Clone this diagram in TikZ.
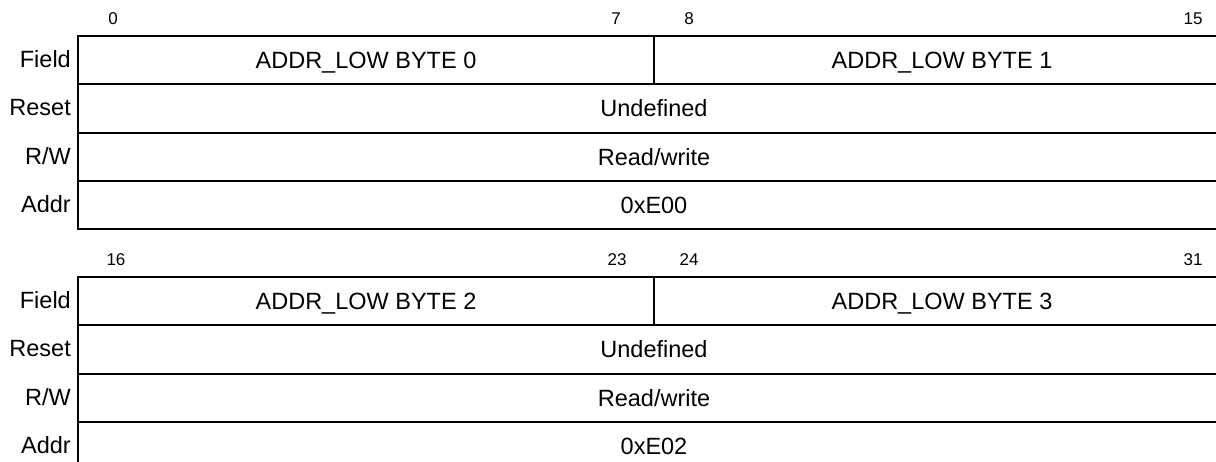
\documentclass[tikz,border=0pt]{standalone}
\usepackage{fontspec}
\setmainfont{Liberation Sans}
\begin{document}
\begin{tikzpicture}[x=1pt,y=-1pt,
  cell/.style={draw,line width=2pt,minimum height=48.25pt,inner sep=0pt,anchor=north west,
    text height=16.8pt,text depth=0pt,font=\fontsize{23.5}{28}\selectfont},
  half/.style={cell,minimum width=576pt},
  full/.style={cell,minimum width=1152pt},
  rowlab/.style={anchor=east,inner sep=0pt,text height=16.8pt,text depth=0pt,
    font=\fontsize{23.5}{28}\selectfont},
  bitlab/.style={anchor=center,inner sep=0pt,text height=12.2pt,text depth=0pt,
    font=\fontsize{17}{20}\selectfont}]
\useasboundingbox (0,0) rectangle (1216,461);
\clip (0,0) rectangle (1216,461);
% ---- table 1 ----
\node[half] (fa1) at (77,35) {ADDR\_LOW BYTE 0};
\node[half] (fb1) at (653,35) {ADDR\_LOW BYTE 1};
\node[full] (rs1) at (77,83.25) {Undefined};
\node[full] (rw1) at (77,131.5) {Read/write};
\node[full] (ad1) at (77,179.75) {0xE00};
\node[rowlab] (lf1) at (71,59.1) {Field};
\node[rowlab] (lr1) at (71,107.4) {Reset};
\node[rowlab] (lw1) at (71,155.6) {R/W};
\node[rowlab] (la1) at (71,203.9) {Addr};
\node[bitlab] (b0) at (113,18.5) {0};
\node[bitlab] (b7) at (616,18.5) {7};
\node[bitlab] (b8) at (689,18.5) {8};
\node[bitlab] (b15) at (1193,18.5) {15};
% ---- table 2 ----
\node[half] (fa2) at (77,276) {ADDR\_LOW BYTE 2};
\node[half] (fb2) at (653,276) {ADDR\_LOW BYTE 3};
\node[full] (rs2) at (77,324.25) {Undefined};
\node[full] (rw2) at (77,372.5) {Read/write};
\node[full] (ad2) at (77,420.75) {0xE02};
\node[rowlab] (lf2) at (71,300.1) {Field};
\node[rowlab] (lr2) at (71,348.4) {Reset};
\node[rowlab] (lw2) at (71,396.6) {R/W};
\node[rowlab] (la2) at (71,444.9) {Addr};
\node[bitlab] (b16) at (116,259.5) {16};
\node[bitlab] (b23) at (617,259.5) {23};
\node[bitlab] (b24) at (689,259.5) {24};
\node[bitlab] (b31) at (1193,259.5) {31};
\end{tikzpicture}
\end{document}
